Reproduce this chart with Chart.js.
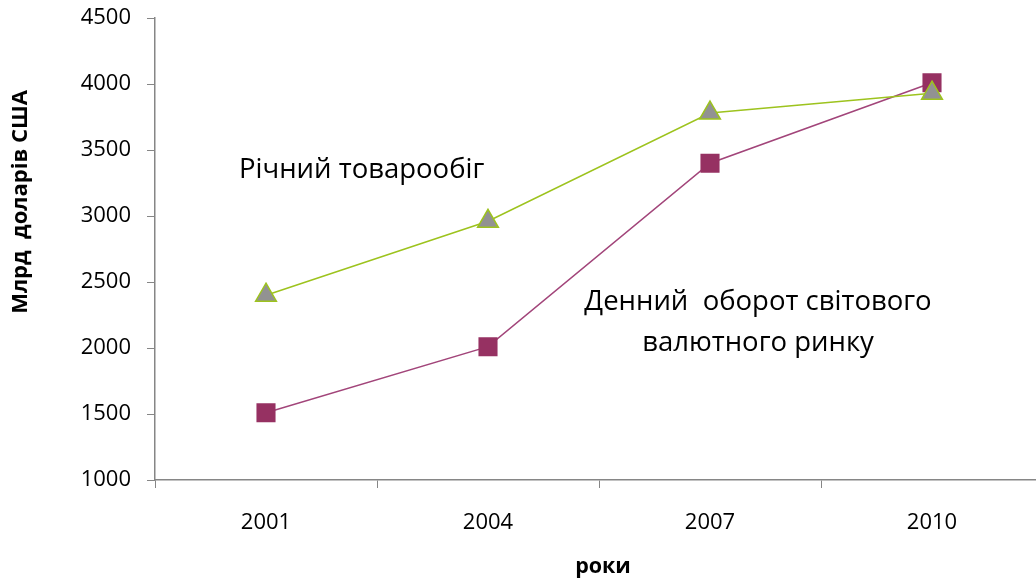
<!DOCTYPE html>
<html>
<head>
<meta charset="utf-8">
<script src="https://cdn.jsdelivr.net/npm/chart.js@4/dist/chart.umd.min.js"></script>
<style>
  html, body { margin: 0; padding: 0; background: #fff; overflow: hidden; }
  #wrap { width: 1036px; height: 581px; overflow: hidden; }
</style>
</head>
<body>
<div id="wrap"><canvas id="turnoverChart" width="1044" height="581"></canvas></div>
<script>
// Роки та значення (млрд доларів США)
const years = ['2001', '2004', '2007', '2010'];
const annualTrade = [2400, 2960, 3780, 3930];
const dailyFx = [1510, 2010, 3400, 4010];
const yTicks = [1000, 1500, 2000, 2500, 3000, 3500, 4000, 4500];

const FONT = '"Open Sans", "DejaVu Sans", sans-serif';
const AXIS_GREY = '#868686';

// підписи серій та осей поверх графіка
const labelsPlugin = {
    id: 'chartLabels',
    afterDraw(chart) {
        const ctx = chart.ctx;
        ctx.save();
        ctx.fillStyle = '#000';
        ctx.textBaseline = 'middle';

        ctx.font = '27.5px ' + FONT;
        ctx.textAlign = 'left';
        ctx.fillText('Річний товарообіг', 239, 170);

        ctx.textAlign = 'center';
        ctx.fillText('Денний  оборот світового', 758, 302);
        ctx.fillText('валютного ринку', 758, 343);

        ctx.font = 'bold 21.5px ' + FONT;
        ctx.fillText('роки', 603, 567);

        ctx.font = 'bold 22px ' + FONT;
        ctx.translate(21, 202);
        ctx.rotate(-Math.PI / 2);
        ctx.fillText('Млрд  доларів США', 0, 0);
        ctx.restore();
    }
};

new Chart(document.getElementById('turnoverChart'), {
    type: 'line',
    data: {
        labels: years,
        datasets: [{
            label: 'Річний товарообіг',
            data: annualTrade,
            borderColor: '#9DC31E',
            borderWidth: 1.5,
            pointStyle: 'triangle',
            pointRadius: 12,
            pointBackgroundColor: '#929292',
            pointBorderColor: '#9DC31E',
            pointBorderWidth: 1.5,
            tension: 0
        }, {
            label: 'Денний оборот світового валютного ринку',
            data: dailyFx,
            borderColor: '#A2457A',
            borderWidth: 1.5,
            pointStyle: 'rect',
            pointRadius: 13.5,
            pointBackgroundColor: '#963162',
            pointBorderColor: '#963162',
            pointBorderWidth: 0,
            tension: 0
        }]
    },
    options: {
        responsive: false,
        animation: false,
        layout: {
            autoPadding: false,
            padding: { top: 18, right: 1, left: 0, bottom: 0 }
        },
        scales: {
            x: {
                offset: true,
                grid: {
                    offset: true,
                    drawOnChartArea: false,
                    drawTicks: true,
                    tickLength: 8,
                    color: AXIS_GREY
                },
                border: { color: AXIS_GREY, width: 1.5 },
                ticks: {
                    color: '#000',
                    padding: 22,
                    font: { family: FONT, size: 22 }
                },
                afterFit(scale) { scale.height = 101; }
            },
            y: {
                min: 1000,
                max: 4500,
                afterBuildTicks(scale) {
                    scale.ticks = yTicks.map(v => ({ value: v }));
                },
                grid: {
                    drawOnChartArea: false,
                    drawTicks: true,
                    tickLength: 8,
                    color: AXIS_GREY
                },
                border: { color: AXIS_GREY, width: 1.5 },
                ticks: {
                    color: '#000',
                    padding: 16,
                    font: { family: FONT, size: 22 },
                    callback: v => String(v)
                },
                afterFit(scale) {
                    scale.width = 155;
                    scale.paddingTop = 0;
                    scale.paddingBottom = 0;
                }
            }
        },
        plugins: {
            legend: { display: false },
            tooltip: { enabled: false }
        }
    },
    plugins: [labelsPlugin]
});
</script>
</body>
</html>
